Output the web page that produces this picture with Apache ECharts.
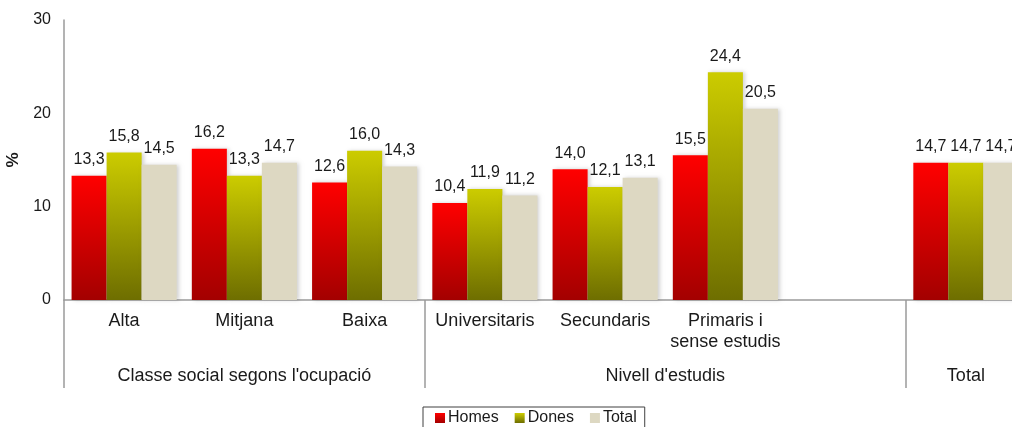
<!DOCTYPE html>
<html>
<head>
<meta charset="utf-8">
<script src="https://cdn.jsdelivr.net/npm/echarts@6/dist/echarts.min.js"></script>
<style>
  html, body { margin: 0; padding: 0; background: #ffffff; }
  #chart { width: 1012px; height: 427px; }
</style>
</head>
<body>
<div id="chart"></div>
<script>
// Categories (the empty slot separates the "Total" group)
const categories = ['Alta', 'Mitjana', 'Baixa', 'Universitaris', 'Secundaris', 'Primaris i\nsense estudis', '', ''];
// Group labels and where each group starts/ends on the category scale
const groups = ['Classe social segons l\'ocupació', 'Nivell d\'estudis', 'Total'];
const groupCenters = [1.5, 5, 7.5];
const groupBounds = [0, 3, 7];

// Values (%)
const homes = [13.3, 16.2, 12.6, 10.4, 14.0, 15.5, null, 14.7];
const dones = [15.8, 13.3, 16.0, 11.9, 12.1, 24.4, null, 14.7];
const total = [14.5, 14.7, 14.3, 11.2, 13.1, 20.5, null, 14.7];

const yTicks = [0, 10, 20, 30];

const FONT = '"Liberation Sans", Arial, sans-serif';
const AXIS_GREY = '#9a9a9a';

const fmt = v => (v == null ? '' : v.toFixed(1).replace('.', ','));

function vgrad(top, bottom) {
  return new echarts.graphic.LinearGradient(0, 0, 0, 1, [
    { offset: 0, color: top },
    { offset: 1, color: bottom }
  ]);
}

function barSeries(name, data, color) {
  return {
    name: name,
    type: 'bar',
    data: data,
    barGap: '0%',
    barCategoryGap: '12.6%',
    itemStyle: {
      color: color,
      shadowColor: 'rgba(0,0,0,0.18)',
      shadowBlur: 4,
      shadowOffsetX: 2,
      shadowOffsetY: 0
    },
    label: {
      show: true,
      position: 'top',
      distance: 8,
      color: '#1a1a1a',
      fontFamily: FONT,
      fontSize: 16,
      formatter: p => fmt(p.value)
    },
    emphasis: { disabled: true }
  };
}

const chart = echarts.init(document.getElementById('chart'));
chart.setOption({
  animation: false,
  backgroundColor: '#ffffff',
  textStyle: { fontFamily: FONT },
  grid: { left: 64, right: -14, top: 20, bottom: 127, containLabel: false, outerBoundsMode: 'none' },
  legend: {
    left: 423,
    top: 407,
    padding: [3, 8, 3, 12],
    itemGap: 16,
    itemWidth: 10,
    itemHeight: 10,
    borderColor: '#404040',
    borderWidth: 1,
    icon: 'rect',
    textStyle: { fontFamily: FONT, fontSize: 16, color: '#1a1a1a', padding: [0, 0, 0, -2] },
    data: ['Homes', 'Dones', 'Total']
  },
  xAxis: [
    {
      type: 'category',
      data: categories,
      axisLine: { show: true, lineStyle: { color: AXIS_GREY, width: 1.5 } },
      axisTick: { show: false },
      axisLabel: {
        interval: 0,
        margin: 11,
        color: '#1a1a1a',
        fontFamily: FONT,
        fontSize: 18,
        lineHeight: 21
      }
    },
    {
      type: 'value',
      position: 'bottom',
      min: 0,
      max: 8,
      axisLine: { show: false },
      splitLine: { show: false },
      axisTick: {
        show: true,
        length: 88,
        customValues: groupBounds,
        lineStyle: { color: AXIS_GREY, width: 1.5 }
      },
      axisLabel: {
        customValues: groupCenters,
        margin: 67,
        color: '#1a1a1a',
        fontFamily: FONT,
        fontSize: 18,
        formatter: v => groups[groupCenters.indexOf(v)] || ''
      }
    }
  ],
  yAxis: {
    type: 'value',
    min: yTicks[0],
    max: yTicks[yTicks.length - 1],
    interval: 10,
    name: '%',
    nameLocation: 'middle',
    nameRotate: 90,
    nameGap: 39,
    nameTextStyle: { fontFamily: FONT, fontSize: 17, fontWeight: 'bold', color: '#1a1a1a' },
    axisLine: { show: true, lineStyle: { color: AXIS_GREY, width: 1.5 } },
    axisTick: { show: false },
    splitLine: { show: false },
    axisLabel: { margin: 13, color: '#1a1a1a', fontFamily: FONT, fontSize: 16 }
  },
  series: [
    barSeries('Homes', homes, vgrad('#ff0000', '#a30000')),
    barSeries('Dones', dones, vgrad('#cccc00', '#6e6e00')),
    barSeries('Total', total, '#ddd8c2')
  ]
});
</script>
</body>
</html>
